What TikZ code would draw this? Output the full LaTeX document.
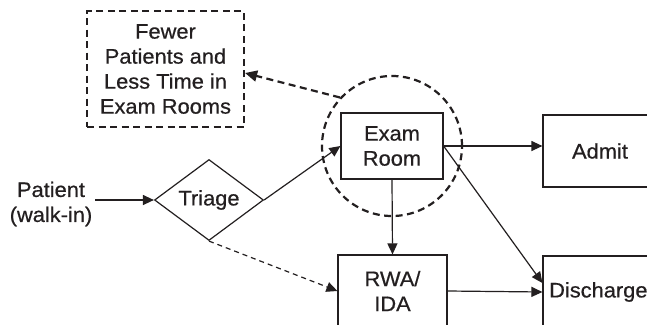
\documentclass[tikz,border=0pt]{standalone}
\usepackage{fontspec}
\setmainfont{Liberation Sans}[FakeStretch=1.04, FakeBold=0.6]
\usetikzlibrary{arrows.meta,shapes.geometric}
\definecolor{ink}{HTML}{231F20}
\tikzset{
  flow/.style={draw=ink, line width=1.2pt, -{Triangle[length=11pt,width=10pt]}},
  thinflow/.style={flow, dash pattern=on 5pt off 4pt},
  boldflow/.style={draw=ink, line width=2.2pt, dash pattern=on 7pt off 4.5pt,
    -{Triangle[length=12pt,width=11pt]}},
  procbox/.style={draw=ink, line width=1.2pt, rectangle, inner sep=0pt, align=center},
  notebox/.style={draw=ink, line width=2.2pt, dash pattern=on 7pt off 4.5pt,
    rectangle, inner sep=0pt, align=center, minimum width=157pt, minimum height=116pt},
  decision/.style={draw=ink, line width=1.2pt, diamond, aspect=1.35, inner sep=0pt,
    minimum width=109pt, minimum height=81pt},
  label/.style={align=center, inner sep=3pt}
}
\begin{document}
\begin{tikzpicture}[x=1pt, y=-1pt, font=\fontsize{21}{25}\selectfont, text=ink]
  \useasboundingbox (0,0) rectangle (647,324);
  \clip (0,0) rectangle (647,324);
  \fill[white] (0,0) rectangle (647,324);

  % outcome note and process nodes
  \node[notebox] (fewer) at (165.5,69) {Fewer\\Patients and\\Less Time in\\Exam Rooms};
  \node[label] (patient) at (51,204) {Patient\\(walk-in)};
  \node[decision] (triage) at (209,200) {Triage};
  \node[procbox, minimum width=102pt, minimum height=66pt] (exam) at (392,146) {Exam\\Room};
  \node[draw=ink, line width=2.2pt, dash pattern=on 7pt off 4.5pt, circle,
        minimum size=140pt, inner sep=0pt] (focus) at (392,146) {};
  \node[procbox, minimum width=114pt, minimum height=72pt] (admit) at (600,151) {Admit};
  \node[procbox, minimum width=109pt, minimum height=72pt] (rwa) at (392.5,291) {RWA/\\IDA};
  \node[procbox, minimum width=114pt, minimum height=72pt] (discharge) at (600,292) {};
  \node[anchor=west, inner sep=0pt] (dischargetext) at (549,292) {Discharge};

  % connectors
  \draw[flow] (patient.east |- triage.west) -- (triage.west);
  \draw[flow] (triage.east) -- (exam.west);
  \draw[thinflow] (triage.south) -- (rwa.west);
  \draw[flow] (exam.east) -- (exam.east -| admit.west);
  \draw[flow] (exam.east) -- ([yshift=9pt]discharge.west);
  \draw[flow] (exam.south) -- (rwa.north);
  \draw[flow] (rwa.east) -- (discharge.west);
  \draw[boldflow] (focus.137) -- ([yshift=-4pt]fewer.east);
\end{tikzpicture}
\end{document}
